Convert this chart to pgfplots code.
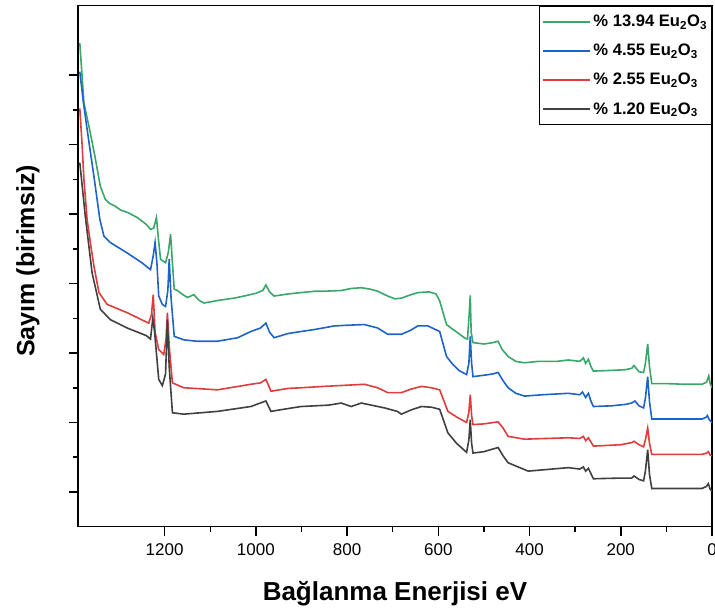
\documentclass[border=0pt]{standalone}
\usepackage{fontspec}
\setmainfont{Liberation Sans}
\usepackage{pgfplots}
\pgfplotsset{compat=1.18}
\definecolor{cgreen}{RGB}{58,166,106}
\definecolor{cblue}{RGB}{30,100,200}
\definecolor{cred}{RGB}{225,60,60}
\definecolor{cgray}{RGB}{64,64,64}
\begin{document}
\begin{tikzpicture}
\begin{axis}[
  name=ax,
  scale only axis,
  width=634pt, height=521pt,
  xmin=0, xmax=1390, ymin=0.5, ymax=8.0,
  x dir=reverse,
  xtick={0,200,...,1200},
  minor x tick num=1,
  ytick={1,2,...,7},
  minor y tick num=1,
  yticklabels={},
  tick pos=left,
  tick align=outside,
  major tick length=9pt,
  minor tick length=5pt,
  axis line style={line width=1.6pt},
  every tick/.style={line width=1.5pt, black},
  /pgf/number format/assume math mode=true,
  /pgf/number format/1000 sep={},
  tick label style={font=\fontsize{17}{20}\selectfont},
  xticklabel style={yshift=-4pt},
  xlabel={\textbf{Bağlanma Enerjisi eV}},
  ylabel={\textbf{Sayım (birimsiz)}},
  x label style={at={(axis description cs:0.5,-0.1286)}, anchor=center, font=\fontsize{26}{31}\selectfont},
  y label style={at={(axis description cs:-0.0789,0.51)}, anchor=center, font=\fontsize{25}{30}\selectfont},
  legend style={at={(1,1)}, anchor=north east, draw=black, line width=1pt,
    font=\fontsize{16.6}{20}\selectfont\bfseries, row sep=12pt, inner xsep=2.5pt, inner ysep=7pt},
  legend cell align=left,
  legend image code/.code={\draw[#1, line width=2pt] (0pt,0pt) -- (47pt,0pt);},
  every axis plot/.append style={line width=1.6pt},
]
\addplot[cgreen] coordinates {
(1386,7.46) (1377,6.60) (1363,6.17) (1352,5.80) (1341,5.40) (1330,5.21) (1320,5.15) (1310,5.12) (1297,5.06) (1280,5.02) (1260,4.95) (1240,4.85) (1231,4.78) (1224,4.80) (1218,4.95) (1213,4.60) (1209,4.35) (1198,4.30) (1192,4.45) (1187,4.71) (1183,4.30) (1179,3.92) (1172,3.90) (1160,3.84) (1150,3.80) (1136,3.84) (1125,3.76) (1114,3.72) (1080,3.76) (1048,3.79) (1026,3.82) (1000,3.86) (985,3.90) (978,3.98) (970,3.88) (960,3.82) (930,3.85) (901,3.87) (870,3.89) (850,3.89) (813,3.90) (790,3.93) (769,3.94) (750,3.92) (733,3.89) (711,3.82) (695,3.78) (681,3.79) (660,3.84) (645,3.87) (620,3.88) (605,3.85) (597,3.75) (582,3.41) (570,3.35) (555,3.28) (543,3.22) (536,3.20) (532,3.60) (530,3.83) (528,3.30) (524,3.15) (500,3.13) (480,3.15) (469,3.17) (460,3.05) (447,2.95) (430,2.88) (411,2.86) (380,2.88) (340,2.88) (315,2.90) (290,2.88) (282,2.93) (277,2.85) (271,2.91) (265,2.80) (260,2.74) (220,2.75) (190,2.76) (176,2.78) (171,2.82) (160,2.73) (150,2.72) (146,2.85) (141,3.13) (137,2.80) (132,2.56) (100,2.56) (60,2.55) (22,2.55) (12,2.58) (7,2.67) (4,2.56) (0,2.50)
};
\addlegendentry{\% 13.94 Eu\textsubscript{2}O\textsubscript{3}}
\addplot[cblue] coordinates {
(1386,7.05) (1378,6.60) (1370,6.22) (1355,5.54) (1342,4.92) (1333,4.68) (1319,4.59) (1282,4.44) (1250,4.30) (1231,4.20) (1225,4.40) (1221,4.59) (1217,4.30) (1213,3.82) (1205,3.70) (1198,3.67) (1193,3.90) (1190,4.35) (1186,3.80) (1179,3.24) (1158,3.19) (1130,3.17) (1084,3.17) (1040,3.22) (1011,3.31) (990,3.36) (978,3.43) (970,3.30) (960,3.22) (930,3.28) (901,3.31) (870,3.34) (828,3.39) (800,3.40) (762,3.41) (733,3.36) (711,3.27) (681,3.27) (660,3.33) (645,3.39) (623,3.39) (597,3.31) (582,2.95) (570,2.85) (555,2.75) (538,2.69) (533,2.85) (530,3.24) (527,2.85) (524,2.66) (500,2.68) (480,2.70) (469,2.72) (458,2.60) (447,2.50) (430,2.42) (411,2.38) (370,2.40) (315,2.42) (290,2.40) (284,2.44) (277,2.36) (271,2.42) (265,2.30) (260,2.23) (220,2.24) (190,2.26) (176,2.28) (169,2.31) (160,2.24) (150,2.21) (146,2.35) (141,2.66) (137,2.30) (132,2.05) (100,2.05) (40,2.05) (22,2.05) (14,2.07) (10,2.10) (6,2.04) (0,2.00)
};
\addlegendentry{\% 4.55 Eu\textsubscript{2}O\textsubscript{3}}
\addplot[cred] coordinates {
(1386,6.52) (1381,6.00) (1377,5.50) (1370,4.92) (1362,4.55) (1355,4.25) (1344,3.87) (1326,3.70) (1282,3.58) (1235,3.43) (1229,3.55) (1225,3.84) (1221,3.30) (1213,3.05) (1202,2.98) (1197,3.20) (1194,3.58) (1190,3.10) (1183,2.57) (1158,2.50) (1084,2.47) (1011,2.55) (990,2.57) (978,2.62) (970,2.50) (967,2.45) (930,2.49) (901,2.50) (850,2.52) (762,2.55) (733,2.50) (711,2.43) (681,2.43) (660,2.48) (637,2.52) (615,2.50) (597,2.47) (579,2.16) (560,2.08) (538,2.00) (533,2.15) (530,2.40) (527,2.10) (524,1.97) (500,1.98) (469,2.01) (458,1.92) (447,1.80) (411,1.76) (315,1.78) (290,1.77) (282,1.80) (277,1.74) (271,1.78) (260,1.66) (200,1.68) (176,1.71) (171,1.73) (160,1.68) (150,1.65) (146,1.75) (141,1.92) (137,1.70) (132,1.54) (60,1.54) (22,1.54) (12,1.56) (8,1.58) (4,1.53) (0,1.52)
};
\addlegendentry{\% 2.55 Eu\textsubscript{2}O\textsubscript{3}}
\addplot[cgray] coordinates {
(1386,5.74) (1374,4.97) (1359,4.15) (1341,3.63) (1319,3.48) (1282,3.36) (1240,3.25) (1231,3.20) (1226,3.50) (1222,3.30) (1213,2.62) (1205,2.53) (1198,2.70) (1194,3.48) (1190,2.80) (1183,2.14) (1158,2.12) (1084,2.16) (1011,2.23) (978,2.31) (967,2.16) (930,2.20) (901,2.23) (840,2.25) (813,2.28) (791,2.23) (769,2.28) (718,2.21) (690,2.16) (681,2.12) (660,2.18) (637,2.23) (615,2.22) (597,2.19) (579,1.85) (560,1.70) (538,1.57) (533,1.75) (530,2.04) (527,1.70) (524,1.56) (500,1.58) (469,1.64) (458,1.52) (447,1.42) (403,1.30) (315,1.35) (290,1.33) (282,1.36) (277,1.30) (271,1.34) (260,1.19) (200,1.20) (176,1.20) (171,1.23) (160,1.18) (150,1.16) (146,1.30) (141,1.61) (137,1.25) (132,1.05) (60,1.05) (22,1.05) (12,1.08) (8,1.12) (4,1.04) (0,1.01)
};
\addlegendentry{\% 1.20 Eu\textsubscript{2}O\textsubscript{3}}
\end{axis}
\pgfresetboundingbox
\path ([xshift=-78pt,yshift=-87pt]ax.south west) rectangle ([xshift=3pt,yshift=5.7pt]ax.north east);
\end{tikzpicture}
\end{document}
